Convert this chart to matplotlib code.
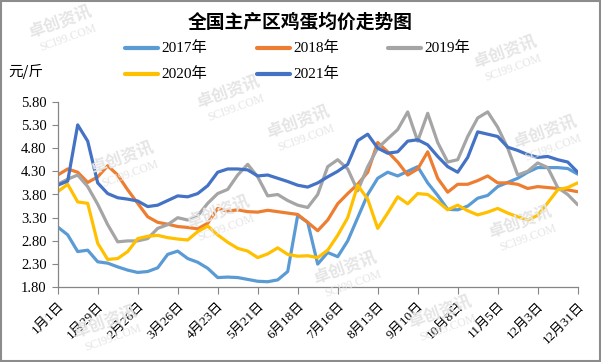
import numpy as np
import matplotlib
matplotlib.use("Agg")
import matplotlib.pyplot as plt
from matplotlib.lines import Line2D
from matplotlib.patches import Rectangle

# ---------------- data ----------------
days = list(range(1, 366, 7))  # weekly samples, day-of-year

y2017 = [3.10, 2.93, 2.57, 2.60, 2.35, 2.32, 2.24, 2.17, 2.12, 2.14, 2.22,
         2.51, 2.58, 2.42, 2.34, 2.21, 2.01, 2.02, 2.01, 1.97, 1.93,
         1.92, 1.96, 2.14, 3.35, 3.20, 2.30, 2.55, 2.46, 2.80, 3.30, 3.80,
         4.15, 4.28, 4.20, 4.30, 4.40, 4.05, 3.78, 3.48, 3.47, 3.55, 3.72,
         3.78, 3.97, 4.06, 4.15, 4.28, 4.38, 4.38, 4.38, 4.36, 4.24]
y2018 = [4.22, 4.35, 4.28, 4.06, 4.18, 4.42, 4.22, 3.90, 3.61, 3.32, 3.20,
         3.16, 3.11, 3.09, 3.06, 3.18, 3.50, 3.44, 3.47, 3.43, 3.42,
         3.46, 3.43, 3.40, 3.37, 3.20, 3.02, 3.25, 3.60, 3.82, 4.02, 4.28,
         4.92, 4.72, 4.50, 4.22, 4.35, 4.72, 4.15, 3.85, 4.02, 4.02, 4.10,
         4.20, 4.05, 4.05, 4.02, 3.93, 3.97, 3.95, 3.93, 3.90, 3.86]
y2019 = [4.02, 4.13, 4.22, 3.97, 3.59, 3.15, 2.78, 2.80, 2.80, 2.85, 3.07,
         3.15, 3.30, 3.25, 3.34, 3.61, 3.82, 3.91, 4.22, 4.45, 4.18,
         3.77, 3.80, 3.67, 3.57, 3.52, 3.80, 4.40, 4.55, 4.35, 3.88, 4.40,
         4.80, 5.00, 5.20, 5.58, 4.95, 5.55, 4.92, 4.50, 4.55, 5.05, 5.45,
         5.58, 5.25, 4.80, 4.22, 4.30, 4.48, 4.38, 3.95, 3.80, 3.58]
y2020 = [3.86, 4.02, 3.64, 3.61, 2.75, 2.40, 2.42, 2.57, 2.85, 2.90, 2.92,
         2.87, 2.84, 2.82, 3.00, 3.12, 2.93, 2.77, 2.64, 2.58, 2.44,
         2.52, 2.65, 2.51, 2.47, 2.48, 2.44, 2.60, 2.92, 3.30, 4.00, 3.70,
         3.07, 3.40, 3.75, 3.60, 3.82, 3.80, 3.65, 3.47, 3.57, 3.45, 3.36,
         3.42, 3.50, 3.40, 3.32, 3.25, 3.35, 3.62, 3.90, 3.95, 4.05]
y2021 = [4.00, 4.09, 5.30, 4.95, 4.05, 3.82, 3.73, 3.70, 3.66, 3.54, 3.57,
         3.67, 3.77, 3.75, 3.82, 3.99, 4.28, 4.35, 4.35, 4.33, 4.20,
         4.22, 4.15, 4.08, 4.00, 3.96, 4.05, 4.18, 4.30, 4.45, 4.96, 5.10,
         4.80, 4.69, 4.72, 4.95, 4.98, 4.87, 4.62, 4.40, 4.28, 4.60, 5.15,
         5.10, 5.05, 4.82, 4.75, 4.66, 4.60, 4.62, 4.55, 4.50, 4.28]

series_names = ["2017年", "2018年", "2019年", "2020年", "2021年"]
series_values = [y2017, y2018, y2019, y2020, y2021]
colors = ["#5B9BD5", "#ED7D31", "#A5A5A5", "#FFC000", "#4472C4"]

tick_days = [1, 29, 57, 85, 113, 141, 169, 197, 225, 253, 281, 309, 337, 365]
tick_labels = ["1月1日", "1月29日", "2月26日", "3月26日", "4月23日", "5月21日",
               "6月18日", "7月16日", "8月13日", "9月10日", "10月8日", "11月5日",
               "12月3日", "12月31日"]
y_ticks = [1.80, 2.30, 2.80, 3.30, 3.80, 4.30, 4.80, 5.30, 5.80]

title = "全国主产区鸡蛋均价走势图"
unit = "元/斤"

# ---------------- figure ----------------
W, H = 601, 362
fig = plt.figure(figsize=(W / 100, H / 100), dpi=100)
mixed = ["Liberation Serif", "Noto Sans CJK SC", "DejaVu Sans"]
cjk = ["Noto Sans CJK SC", "DejaVu Sans"]

def fx(px):
    return px / W

def fy(py):
    return 1 - py / H

# watermarks
wm_pos = [(60, 22), (228, 92), (505, 52), (122, 158), (298, 122), (545, 132),
          (218, 212), (520, 222), (345, 268), (105, 322), (440, 312)]
for (px, py) in wm_pos:
    fig.text(fx(px), fy(py), "卓创资讯", family=cjk, fontsize=12, fontweight="bold",
             color="#E5E5E5", rotation=20, ha="center", va="center", zorder=0)
    fig.text(fx(px + 8), fy(py + 16), "SCI99.COM", family=["Liberation Serif"],
             fontsize=8.5, color="#E5E5E5", rotation=20, ha="center", va="center",
             zorder=0)

ax = fig.add_axes([fx(57.7), fy(287.3), fx(577.7) - fx(57.7), fy(101.7) - fy(287.3)])
ax.set_facecolor("none")

for name, vals, c in zip(series_names, series_values, colors):
    ax.plot(days, vals, color=c, lw=2.3, solid_joinstyle="round",
            solid_capstyle="round", label=name)

ax.set_xlim(1, 365)
ax.set_ylim(1.80, 5.80)
ax.set_xticks(tick_days)
ax.set_xticklabels(tick_labels, rotation=45, ha="right", va="top",
                   rotation_mode="anchor", family=mixed, fontsize=9.5)
ax.set_yticks(y_ticks)
ax.set_yticklabels(["%.2f" % v for v in y_ticks], family=mixed, fontsize=10.5)
for s in ["top", "right"]:
    ax.spines[s].set_visible(False)
for s in ["left", "bottom"]:
    ax.spines[s].set_color("#868686")
    ax.spines[s].set_linewidth(0.9)
ax.tick_params(axis="x", direction="out", length=5, color="#868686", pad=4)
ax.tick_params(axis="y", direction="out", length=4, color="#868686", pad=4)

# title & unit
fig.text(0.5, fy(22), title, family=cjk, fontsize=13.5, fontweight="bold",
         ha="center", va="center")
fig.text(fx(8), fy(71), unit, family=cjk, fontsize=10.5, ha="left", va="center")

# legend (manual, row-major)
leg_pos = [(125, 48), (257, 48), (388, 48), (125, 74), (257, 74)]
for (px, py), name, c in zip(leg_pos, series_names, colors):
    fig.add_artist(Line2D([fx(px), fx(px + 33)], [fy(py), fy(py)], color=c, lw=3,
                          solid_capstyle="round", transform=fig.transFigure))
    fig.text(fx(px + 36), fy(py), name, family=mixed, fontsize=11, ha="left",
             va="center")

# border
fig.add_artist(Rectangle((0.002, 0.003), 0.996, 0.994, transform=fig.transFigure,
                         fill=False, edgecolor="#8C8C8C", lw=1.5))

fig.savefig("out.png", dpi=100)
